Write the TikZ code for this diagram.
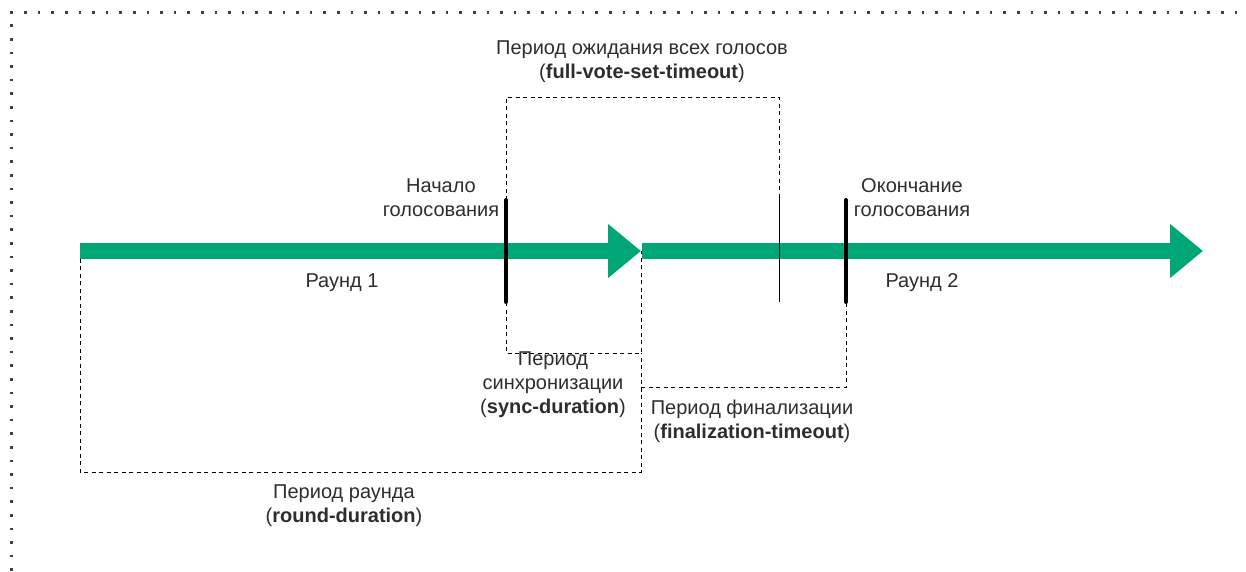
\documentclass[tikz,border=0pt]{standalone}
\usepackage{fontspec}
\setmainfont{Liberation Sans}
\usepackage{xcolor}
\usetikzlibrary{arrows.meta,positioning,calc}

\begin{document}
\begin{tikzpicture}[x=1pt, y=-1pt, line width=1pt,
    font=\fontsize{20}{24}\selectfont,
    lbl/.style={text=textGray, align=center, inner sep=0pt},
    dashbox/.style={draw=black, line width=1pt, dash pattern=on 4pt off 3.5pt},
    roundarrow/.style={draw=roundGreen, line width=16pt, -{Triangle[length=33pt, width=52pt]}},
    votebar/.style={draw=black, line width=4pt, line cap=round},
    framedots/.style={draw=black!75, line width=2.6pt, dash pattern=on 2.6pt off 11pt}]

    % Define colors
    \definecolor{roundGreen}{RGB}{0, 166, 118}
    \definecolor{textGray}{RGB}{45, 45, 45}

    \useasboundingbox (0,0) rectangle (1246,571);

    % === FRAME ===
    \draw[framedots] (11.5,571) |- (1246,12.5);

    % === KEY POINTS ===
    \coordinate (r1start) at (80,251);
    \coordinate (r1end) at (641,251);
    \coordinate (r2start) at (642,251);
    \coordinate (r2end) at (1203,251);
    \coordinate (startTop) at (506,200);
    \coordinate (startBot) at (506,302);
    \coordinate (endTop) at (846,200);
    \coordinate (endBot) at (846,302);
    \coordinate (fullTop) at (779,195);
    \coordinate (fullBot) at (779,302);
    \coordinate (fvLeft) at (506,97);
    \coordinate (fvRight) at (779,97);
    \coordinate (syncCorner) at (641,353);
    \coordinate (finCorner) at (641,387);
    \coordinate (roundCorner) at (641,472);

    % === DASHED PERIODS ===
    % full-vote-set-timeout
    \draw[dashbox] (startTop) -- (fvLeft) -- (fvRight) -- (fullTop);
    % sync-duration
    \draw[dashbox] (startBot) |- (syncCorner) -- (r1end);
    % round-duration
    \draw[dashbox] (r1start) |- (roundCorner) -- (syncCorner);
    % finalization-timeout
    \draw[dashbox] (finCorner) -| (endBot);

    % === ROUNDS ===
    \draw[roundarrow] (r1start) -- (r1end);
    \draw[roundarrow] (r2start) -- (r2end);

    % === VOTING MARKS ===
    \draw[votebar] (startTop) -- (startBot);
    \draw[votebar] (endTop) -- (endBot);
    \draw[black, line width=1pt] (fullTop) -- (fullBot);

    % === LABELS ===
    \node[lbl] (fullVoteLbl) at (642,62) {Период ожидания всех голосов\\(\textbf{full-vote-set-timeout})};
    \node[lbl] (voteStartLbl) at (441,198) {Начало\\голосования};
    \node[lbl] (voteEndLbl) at (912,198) {Окончание\\голосования};
    \node[lbl] (round1Lbl) at (342,283) {Раунд 1};
    \node[lbl] (round2Lbl) at (922,283) {Раунд 2};
    \node[lbl] (syncLbl) at (553,385) {Период\\синхронизации\\(\textbf{sync-duration})};
    \node[lbl] (finLbl) at (752,421) {Период финализации\\(\textbf{finalization-timeout})};
    \node[lbl] (roundLbl) at (344,506) {Период раунда\\(\textbf{round-duration})};

\end{tikzpicture}
\end{document}
